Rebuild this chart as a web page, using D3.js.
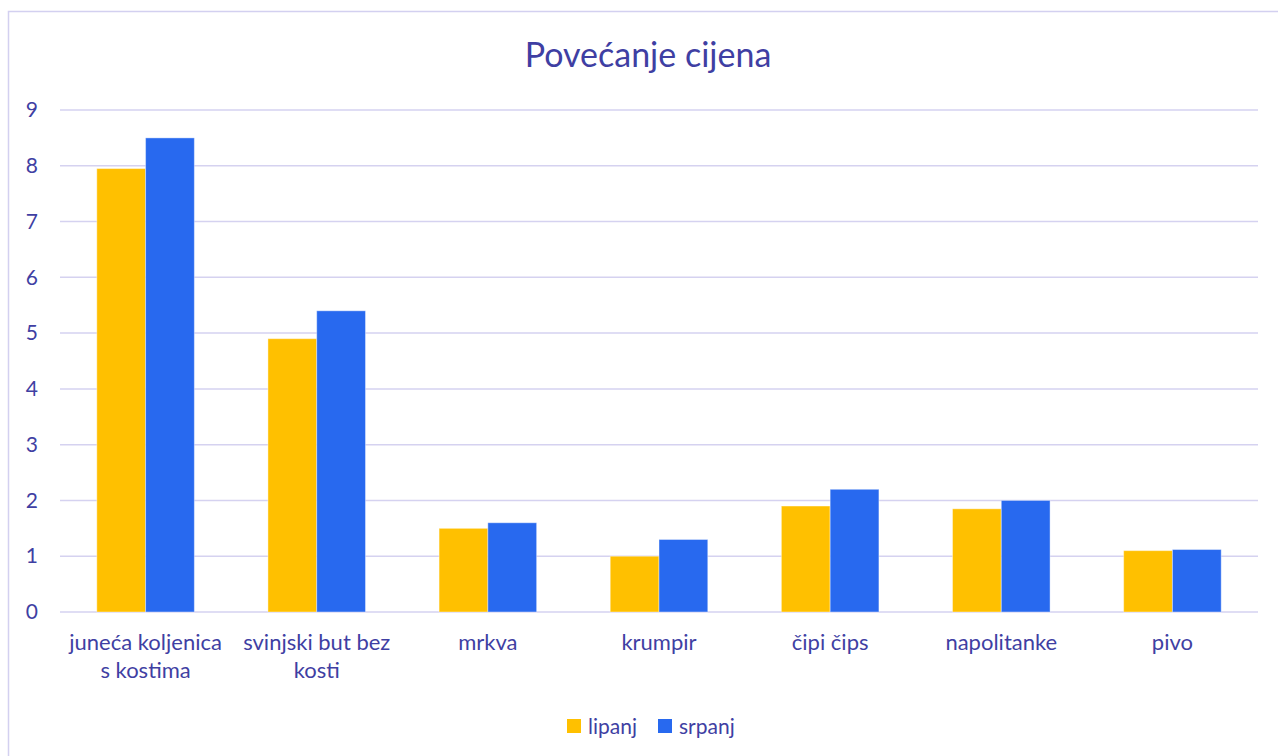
<!DOCTYPE html>
<html>
<head>
<meta charset="utf-8">
<script src="https://d3js.org/d3.v7.min.js"></script>
<style>
  body { margin: 0; background: #fff; }
  text { font-family: Lato, "Open Sans", sans-serif; fill: #3f3fa3; }
</style>
</head>
<body>
<script>
var categories = ["juneća koljenica s kostima", "svinjski but bez kosti", "mrkva", "krumpir", "čipi čips", "napolitanke", "pivo"];
var series = ["lipanj", "srpanj"];
var lipanj = [7.95, 4.9, 1.5, 1.0, 1.9, 1.85, 1.1];
var srpanj = [8.5, 5.4, 1.6, 1.3, 2.2, 2.0, 1.12];
var yTicks = [0, 1, 2, 3, 4, 5, 6, 7, 8, 9];
var colors = ["#ffc000", "#2869ef"];

var W = 1278, H = 756;
var margin = {top: 110, right: 20, bottom: 144, left: 60};
var width = W - margin.left - margin.right,
    height = H - margin.top - margin.bottom;

var svg = d3.select("body").append("svg")
    .attr("width", W)
    .attr("height", H);

// chart frame
svg.append("rect")
    .attr("x", 8.5).attr("y", 11.5)
    .attr("width", W).attr("height", H)
    .attr("fill", "none")
    .attr("stroke", "#d3d0f0")
    .attr("stroke-width", 1.5);

svg.append("text")
    .attr("x", 648).attr("y", 67)
    .attr("text-anchor", "middle")
    .attr("font-size", "34px")
    .text("Povećanje cijena");

var g = svg.append("g")
    .attr("transform", "translate(" + margin.left + "," + margin.top + ")");

var x = d3.scaleBand()
    .domain(categories)
    .range([0, width])
    .paddingInner(0.43)
    .paddingOuter(0.215);

var xs = d3.scaleBand()
    .domain(series)
    .range([0, x.bandwidth()]);

var y = d3.scaleLinear()
    .domain([0, 9])
    .range([height, 0]);

// gridlines
g.selectAll("line.grid")
    .data(yTicks)
    .enter().append("line")
    .attr("class", "grid")
    .attr("x1", 0).attr("x2", width)
    .attr("y1", function(d) { return y(d); })
    .attr("y2", function(d) { return y(d); })
    .attr("stroke", "#d5d2f0")
    .attr("stroke-width", 1.5);

// y axis labels
var yAxis = g.append("g")
    .call(d3.axisLeft(y).tickValues(yTicks).tickSize(0).tickPadding(22));
yAxis.select(".domain").remove();
yAxis.selectAll("text")
    .attr("font-size", "21px")
    .style("font-family", "Lato, 'Open Sans', sans-serif")
    .attr("fill", "#3f3fa3");

var data = categories.map(function(c, i) {
    return {cat: c, values: [{s: "lipanj", v: lipanj[i]}, {s: "srpanj", v: srpanj[i]}]};
});

var groups = g.selectAll("g.cat")
    .data(data)
    .enter().append("g")
    .attr("class", "cat")
    .attr("transform", function(d) { return "translate(" + x(d.cat) + ",0)"; });

groups.selectAll("rect")
    .data(function(d) { return d.values; })
    .enter().append("rect")
    .attr("x", function(d) { return xs(d.s); })
    .attr("width", xs.bandwidth())
    .attr("y", function(d) { return y(d.v); })
    .attr("height", function(d) { return height - y(d.v); })
    .attr("fill", function(d, i) { return colors[i]; })
    .attr("stroke", "#ffffff")
    .attr("stroke-opacity", 0.4)
    .attr("stroke-width", 1);

// x axis labels, wrapped
var xAxis = g.append("g")
    .attr("transform", "translate(0," + height + ")")
    .call(d3.axisBottom(x).tickSize(0).tickPadding(22));
xAxis.select(".domain").remove();
xAxis.selectAll("text")
    .attr("font-size", "22px")
    .style("font-family", "Lato, 'Open Sans', sans-serif")
    .attr("fill", "#3f3fa3")
    .call(wrap, 165);

function wrap(texts, maxW) {
    texts.each(function() {
        var t = d3.select(this);
        var words = t.text().split(/\s+/);
        var yy = t.attr("y"), dy = parseFloat(t.attr("dy"));
        t.text(null);
        var line = [], lineNo = 0;
        var tspan = t.append("tspan").attr("x", 0).attr("y", yy).attr("dy", dy + "em");
        words.forEach(function(w) {
            line.push(w);
            tspan.text(line.join(" "));
            if (tspan.node().getComputedTextLength() > maxW && line.length > 1) {
                line.pop();
                tspan.text(line.join(" "));
                line = [w];
                lineNo++;
                tspan = t.append("tspan").attr("x", 0).attr("y", yy)
                    .attr("dy", (lineNo * 1.27 + dy) + "em").text(w);
            }
        });
    });
}

// legend
var legend = svg.append("g").attr("transform", "translate(567,719)");
var lx = [0, 91];
series.forEach(function(s, i) {
    var item = legend.append("g").attr("transform", "translate(" + lx[i] + ",0)");
    item.append("rect").attr("width", 14).attr("height", 14).attr("fill", colors[i]);
    item.append("text").attr("x", 21).attr("y", 15).attr("font-size", "21px").text(s);
});
</script>
</body>
</html>
